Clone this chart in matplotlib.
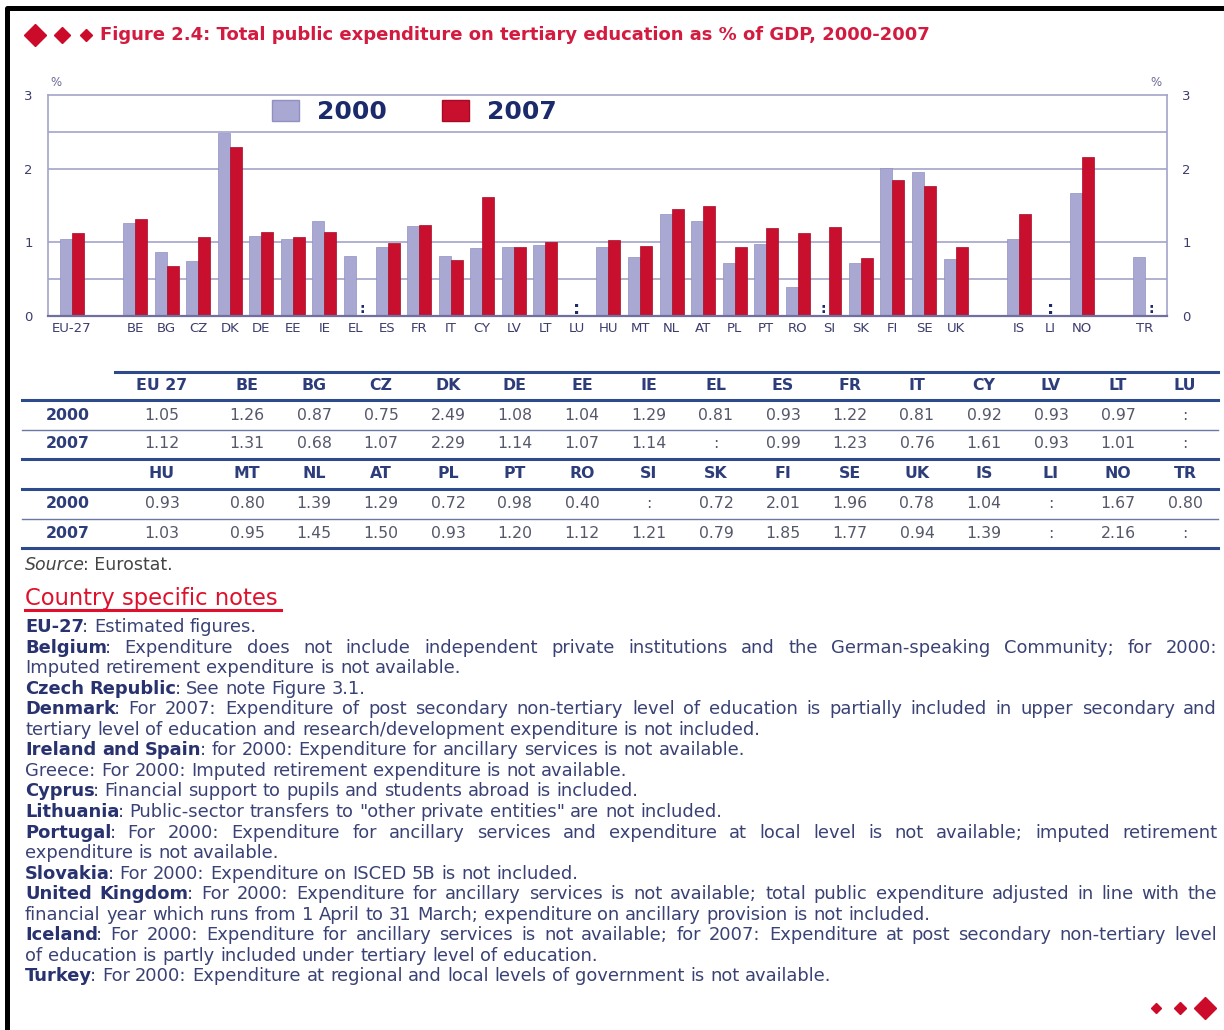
import matplotlib
matplotlib.use("Agg")
import matplotlib.pyplot as plt
from matplotlib import font_manager
from matplotlib.lines import Line2D
from matplotlib.patches import Patch
import numpy as np

# ---- data ----
countries = ["EU-27", "BE", "BG", "CZ", "DK", "DE", "EE", "IE", "EL", "ES", "FR", "IT",
             "CY", "LV", "LT", "LU", "HU", "MT", "NL", "AT", "PL", "PT", "RO", "SI",
             "SK", "FI", "SE", "UK", "IS", "LI", "NO", "TR"]
table_names = ["EU 27"] + countries[1:]
groups = [1, 27, 3, 1]  # EU / member states / EFTA / candidate
v2000 = [1.05, 1.26, 0.87, 0.75, 2.49, 1.08, 1.04, 1.29, 0.81, 0.93, 1.22, 0.81,
         0.92, 0.93, 0.97, None, 0.93, 0.80, 1.39, 1.29, 0.72, 0.98, 0.40, None,
         0.72, 2.01, 1.96, 0.78, 1.04, None, 1.67, 0.80]
v2007 = [1.12, 1.31, 0.68, 1.07, 2.29, 1.14, 1.07, 1.14, None, 0.99, 1.23, 0.76,
         1.61, 0.93, 1.01, None, 1.03, 0.95, 1.45, 1.50, 0.93, 1.20, 1.12, 1.21,
         0.79, 1.85, 1.77, 0.94, 1.39, None, 2.16, None]
years = ["2000", "2007"]

title = "Figure 2.4: Total public expenditure on tertiary education as % of GDP, 2000-2007"
notes = [
    ([("EU-27", True), (": Estimated figures.", False)], False),
    ([("Belgium", True), (": Expenditure does not include independent private institutions and the German-speaking Community; for 2000:", False)], True),
    ([("Imputed retirement expenditure is not available.", False)], False),
    ([("Czech Republic", True), (": See note Figure 3.1.", False)], False),
    ([("Denmark", True), (": For 2007: Expenditure of post secondary non-tertiary level of education is partially included in upper secondary and", False)], True),
    ([("tertiary level of education and research/development expenditure is not included.", False)], False),
    ([("Ireland and Spain", True), (": for 2000: Expenditure for ancillary services is not available.", False)], False),
    ([("Greece: For 2000: Imputed retirement expenditure is not available.", False)], False),
    ([("Cyprus", True), (": Financial support to pupils and students abroad is included.", False)], False),
    ([("Lithuania", True), (': Public-sector transfers to "other private entities" are not included.', False)], False),
    ([("Portugal", True), (": For 2000: Expenditure for ancillary services and expenditure at local level is not available; imputed retirement", False)], True),
    ([("expenditure is not available.", False)], False),
    ([("Slovakia", True), (": For 2000: Expenditure on ISCED 5B is not included.", False)], False),
    ([("United Kingdom", True), (": For 2000: Expenditure for ancillary services is not available; total public expenditure adjusted in line with the", False)], True),
    ([("financial year which runs from 1 April to 31 March; expenditure on ancillary provision is not included.", False)], False),
    ([("Iceland", True), (": For 2000: Expenditure for ancillary services is not available; for 2007: Expenditure at post secondary non-tertiary level", False)], True),
    ([("of education is partly included under tertiary level of education.", False)], False),
    ([("Turkey", True), (": For 2000: Expenditure at regional and local levels of government is not available.", False)], False),
]

# ---- style ----
W, H = 1224, 1030
c2000 = "#a9a8d2"
c2007 = "#c8102e"
navy = "#1b2a6b"
grid_c = "#a3a3c9"
tick_c = "#3c3c6e"
red = "#d31a3f"
tline = "#2c4a8c"

installed = {f.name for f in font_manager.fontManager.ttflist}
narrow = "Liberation Sans Narrow" if "Liberation Sans Narrow" in installed else "DejaVu Sans"
sans = "DejaVu Sans"


def fx(px):
    return px / W


def fy(py):
    return 1 - py / H


fig = plt.figure(figsize=(W / 100, H / 100), dpi=100)
renderer = fig.canvas.get_renderer()


def advance(s, **kw):
    # width of s including its right side bearing, in pixels
    t1 = fig.text(0, 0, s + "l", **kw)
    t2 = fig.text(0, 0, "l", **kw)
    w = t1.get_window_extent(renderer=renderer).width - t2.get_window_extent(renderer=renderer).width
    t1.remove()
    t2.remove()
    return w


# page border (top and left)
fig.add_artist(Line2D([fx(7), fx(7), fx(W)], [fy(H), fy(8), fy(8)], lw=3.6,
                      color="black", transform=fig.transFigure))

# title with diamonds
for px, ms in [(35, 11), (62, 8.5), (86, 6.5)]:
    fig.add_artist(Line2D([fx(px)], [fy(35)], marker="D", ms=ms, color="#cc0a2a",
                          transform=fig.transFigure))
fig.text(fx(100), fy(35), title, color=red, fontsize=13, family=sans,
         fontweight="bold", va="center", ha="left")

# ---- bar chart ----
pos = []
start = 0
for g in groups:
    pos.extend(range(start, start + g))
    start += g + 1
pos = np.array(pos, dtype=float)
a2000 = np.array([np.nan if v is None else v for v in v2000])
a2007 = np.array([np.nan if v is None else v for v in v2007])
bw = 0.38

ax = fig.add_axes([fx(48), fy(316), fx(1167) - fx(48), fy(95) - fy(316)])
for yv in [0.5, 1, 2, 2.5]:
    ax.axhline(yv, color=grid_c, lw=1.2, zorder=0)
m0 = ~np.isnan(a2000)
m7 = ~np.isnan(a2007)
ax.bar(pos[m0] - bw / 2, a2000[m0], bw, color=c2000, edgecolor="#9190c2", lw=0.5, zorder=2)
ax.bar(pos[m7] + bw / 2, a2007[m7], bw, color=c2007, edgecolor="#a70a25", lw=0.5, zorder=2)

# ":" for unavailable values
for i in range(len(countries)):
    if not m0[i] and not m7[i]:
        ax.text(pos[i], 0.1, ":", ha="center", va="center", fontsize=13,
                fontweight="bold", color=navy, family="DejaVu Sans")
    elif not m0[i]:
        ax.text(pos[i] - bw / 2, 0.1, ":", ha="center", va="center", fontsize=10,
                fontweight="bold", color=navy, family="DejaVu Sans")
    elif not m7[i]:
        ax.text(pos[i] + bw / 2, 0.1, ":", ha="center", va="center", fontsize=10,
                fontweight="bold", color=navy, family="DejaVu Sans")

ax.set_xlim(-0.76, 34.7)
ax.set_ylim(0, 3)
ax.set_xticks(pos)
ax.set_xticklabels(countries, family=narrow, fontsize=9.5, color=tick_c)
ax.set_yticks([0, 1, 2, 3])
ax.set_yticklabels(["0", "1", "2", "3"], family=narrow, fontsize=9.5, color=tick_c)
ax.tick_params(axis="x", length=0, pad=4)
ax.tick_params(axis="y", length=0, pad=11, labelleft=True, labelright=True)
for s in ["left", "right", "top"]:
    ax.spines[s].set_color(grid_c)
    ax.spines[s].set_linewidth(1.2)
ax.spines["bottom"].set_color("#6f6fa0")
ax.spines["bottom"].set_linewidth(1.6)
fig.text(fx(56), fy(82), "%", family=narrow, fontsize=8.5, color="#6a6a98", ha="center", va="center")
fig.text(fx(1156), fy(82), "%", family=narrow, fontsize=8.5, color="#6a6a98", ha="center", va="center")

handles = [Patch(facecolor=c2000, edgecolor="#9190c2", label=years[0]),
           Patch(facecolor=c2007, edgecolor="#a70a25", label=years[1])]
leg = ax.legend(handles=handles, loc="center left", bbox_to_anchor=(0.2, 0.923), ncol=2,
                frameon=False, borderpad=0, borderaxespad=0, handlelength=1.1,
                handleheight=0.9, handletextpad=0.7, columnspacing=2.2,
                prop={"family": "DejaVu Sans", "weight": "bold", "size": 18})
for t in leg.get_texts():
    t.set_color(navy)

# ---- data table ----
col_x = [162] + [247 + 67 * k for k in range(15)]
head_c = "#2d3d7a"
val_c = "#55586a"
tfs = 11.3


def hline(y, x0, lw, color):
    fig.add_artist(Line2D([fx(x0), fx(1218)], [fy(y), fy(y)], lw=lw, color=color,
                          transform=fig.transFigure))


def fmt(v):
    return ":" if v is None else f"{v:.2f}"


hline(372, 115, 2.2, tline)
for b, ytop in enumerate([385, 474]):
    idx = range(16 * b, 16 * b + 16)
    for k, i in enumerate(idx):
        fig.text(fx(col_x[k]), fy(ytop), table_names[i], ha="center", va="center",
                 fontsize=tfs, fontweight="bold", color=head_c, family=sans)
        fig.text(fx(col_x[k]), fy(ytop + 30), fmt(v2000[i]), ha="center", va="center",
                 fontsize=tfs, color=val_c, family=sans)
        fig.text(fx(col_x[k]), fy(ytop + 59), fmt(v2007[i]), ha="center", va="center",
                 fontsize=tfs, color=val_c, family=sans)
    fig.text(fx(68), fy(ytop + 30), years[0], ha="center", va="center", fontsize=tfs,
             fontweight="bold", color=head_c, family=sans)
    fig.text(fx(68), fy(ytop + 59), years[1], ha="center", va="center", fontsize=tfs,
             fontweight="bold", color=head_c, family=sans)
    hline(ytop + 15, 22, 2.2, tline)
    hline(ytop + 44.5, 22, 1.0, "#6a78a6")
    hline(ytop + 74, 22, 2.2, tline)

# source
src_kw = dict(fontsize=12.5, color="#444444", family=sans, va="center")
fig.text(fx(25), fy(565), "Source", style="italic", **src_kw)
sw = advance("Source", style="italic", fontsize=12.5, family=sans)
fig.text(fx(25 + sw - 2), fy(565), ": Eurostat.", **src_kw)

# notes heading
fig.text(fx(25), fy(599), "Country specific notes", fontsize=16.3, color="#e0102c",
         family=sans, va="center")
fig.add_artist(Line2D([fx(25), fx(281)], [fy(610), fy(610)], lw=2.2, color="#e0102c",
                      transform=fig.transFigure))

# notes body, justified where the original wraps
nfs = 12.9
left, right = 25, 1217
space = advance(" ", fontsize=nfs, family=sans)
for li, (segs, justify) in enumerate(notes):
    y = fy(627 + li * 20.55)
    words = []
    new_word = True
    for text, bold in segs:
        parts = text.split(" ")
        for k, p in enumerate(parts):
            if k > 0:
                new_word = True
            if p == "":
                continue
            if new_word or not words:
                words.append([(p, bold)])
            else:
                words[-1].append((p, bold))
            new_word = False
    objs = []
    widths = []
    for w in words:
        pieces = []
        tw = 0
        for p, bold in w:
            weight = "bold" if bold else "normal"
            if pieces and p.startswith(":"):
                tw -= 2  # pull the colon up to the bold label
            t = fig.text(0, y, p, fontsize=nfs, family=sans, va="center", ha="left",
                         fontweight=weight, color="#28326e" if bold else "#3a4275")
            pieces.append((t, tw))
            tw += advance(p, fontsize=nfs, family=sans, fontweight=weight)
        objs.append(pieces)
        widths.append(tw)
    gap = space
    if justify and len(words) > 1:
        gap = (right - left - sum(widths)) / (len(words) - 1)
    x = left
    for pieces, tw in zip(objs, widths):
        for t, off in pieces:
            t.set_x(fx(x + off))
        x += tw + gap

# closing diamonds
for px, ms in [(1156, 5.5), (1180, 6.5), (1205, 11)]:
    fig.add_artist(Line2D([fx(px)], [fy(1008)], marker="D", ms=ms, color="#cc0a2a",
                          transform=fig.transFigure))

fig.savefig("out.png", dpi=100)
